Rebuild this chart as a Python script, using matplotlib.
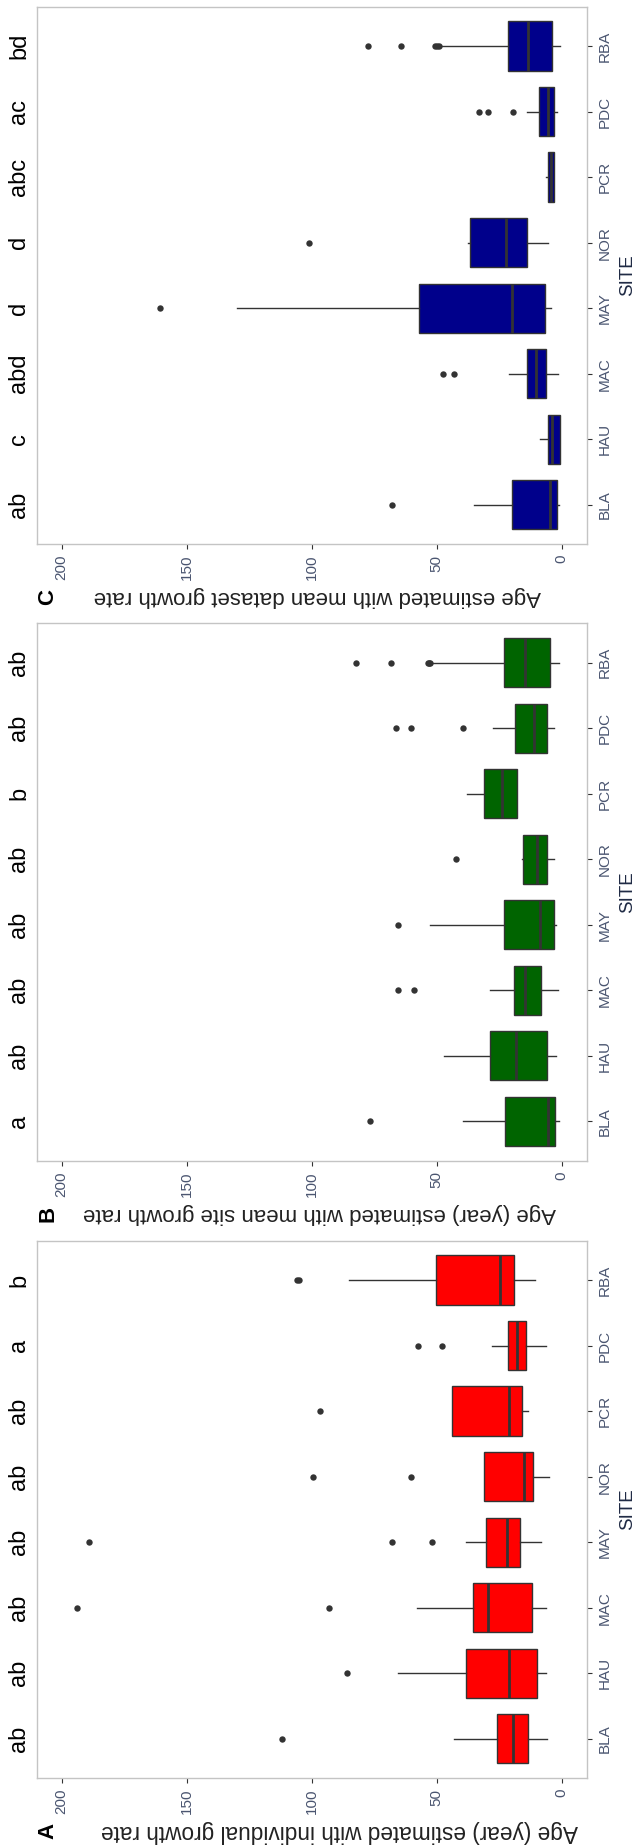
import matplotlib
matplotlib.use("Agg")
import matplotlib.pyplot as plt
from matplotlib.transforms import blended_transform_factory

plt.rcParams['font.family'] = ['Liberation Sans', 'DejaVu Sans']

# Sites, bottom to top
sites = ['BLA', 'HAU', 'MAC', 'MAY', 'NOR', 'PCR', 'PDC', 'RBA']

# -------------------------------
# Panel A: individual growth rate
# -------------------------------
a_low = [5.7, 6.1, 6.1, 8.3, 5.2, 13.4, 6.1, 10.5]
a_q1 = [13.4, 9.9, 12.0, 16.5, 11.5, 15.9, 14.4, 18.9]
a_med = [19.3, 21.0, 29.6, 21.8, 15.2, 21.2, 17.8, 24.8]
a_q3 = [25.9, 38.2, 35.6, 30.4, 30.9, 43.7, 21.5, 50.3]
a_high = [43.2, 65.4, 57.8, 38.2, 30.9, 43.7, 27.9, 85.0]
a_out = [[111.7], [85.9], [93.0, 193.9], [51.9, 68.0, 189.2],
         [60.2, 99.4], [96.8], [47.7, 57.6], [105.2, 106.0]]
a_letters = ['ab', 'ab', 'ab', 'ab', 'ab', 'ab', 'a', 'b']

# -------------------------------
# Panel B: mean site growth rate
# -------------------------------
b_low = [1.0, 2.1, 1.3, 2.1, 2.9, 18.0, 2.9, 1.0]
b_q1 = [2.6, 5.7, 8.4, 2.9, 5.7, 18.0, 5.7, 4.5]
b_med = [5.3, 18.3, 14.6, 8.6, 9.7, 23.9, 11.0, 14.6]
b_q3 = [22.8, 28.5, 19.1, 23.1, 15.5, 30.9, 18.6, 23.1]
b_high = [39.3, 47.1, 28.5, 52.6, 16.0, 37.7, 27.5, 51.5]
b_out = [[76.5], [], [59.2, 65.4], [65.4], [42.2], [],
         [39.6, 60.2, 66.2], [52.5, 53.0, 53.5, 68.4, 82.2]]
b_letters = ['a', 'ab', 'ab', 'ab', 'ab', 'b', 'ab', 'ab']

# -------------------------------
# Panel C: mean dataset growth rate
# -------------------------------
c_low = [1.0, 0.8, 1.6, 4.2, 5.6, 3.0, 1.7, 0.7]
c_q1 = [2.0, 0.8, 6.1, 6.6, 13.9, 3.0, 2.9, 3.9]
c_med = [4.5, 3.7, 10.1, 19.9, 22.3, 4.2, 5.3, 13.6]
c_q3 = [19.9, 5.4, 14.0, 57.1, 36.6, 5.3, 9.2, 21.6]
c_high = [34.9, 8.6, 21.1, 129.8, 37.4, 6.2, 13.8, 48.3]
c_out = [[67.7], [], [43.0, 47.5], [160.5], [101.0], [],
         [19.6, 29.3, 33.0], [49.2, 50.0, 50.6, 64.4, 77.6]]
c_letters = ['ab', 'c', 'abd', 'd', 'd', 'abc', 'ac', 'bd']

age_ticks = [0, 50, 100, 150, 200]

W, H = 635, 1845
fig = plt.figure(figsize=(W / 100, H / 100), dpi=100)

tick_col = '#4a5570'
line_col = '#333333'


def draw_panel(top_px, low, q1, med, q3, high, out, letters, color, label, tag):
    bottom_px = top_px + 537.3
    ax = fig.add_axes([36.7 / W, 1 - bottom_px / H, 550 / W, 537.3 / H])

    stats = []
    for i in range(len(sites)):
        stats.append({'whislo': low[i], 'q1': q1[i], 'med': med[i],
                      'q3': q3[i], 'whishi': high[i], 'fliers': out[i]})

    ax.bxp(stats, positions=range(1, len(sites) + 1), widths=0.75,
           orientation='horizontal', patch_artist=True, showcaps=False,
           boxprops=dict(facecolor=color, edgecolor=line_col, linewidth=1.0),
           medianprops=dict(color=line_col, linewidth=2.0),
           whiskerprops=dict(color=line_col, linewidth=1.0),
           flierprops=dict(marker='o', markerfacecolor=line_col,
                           markeredgecolor='none', markersize=4.6))

    ax.set_xlim(210, -10)
    ax.set_ylim(0.4, 8.6)

    ax.set_xticks(age_ticks)
    ax.set_xticklabels([str(t) for t in age_ticks], rotation=90,
                       fontsize=11, color=tick_col)
    ax.set_yticks(range(1, len(sites) + 1))
    ax.set_yticklabels(sites, rotation=90, va='center',
                       fontsize=11, color=tick_col)
    ax.yaxis.tick_right()
    ax.tick_params(axis='both', length=3.8, width=0.8, color=line_col, pad=4)

    for s in ax.spines.values():
        s.set_color('#c4c4c4')
        s.set_linewidth(1.0)

    # significance letters on the left side
    trans = blended_transform_factory(ax.transAxes, ax.transData)
    for i, let in enumerate(letters):
        ax.text(-0.032, i + 1, let, transform=trans, rotation=90,
                ha='center', va='center', fontsize=17, color='black')

    # SITE title on the right
    mid = (top_px + bottom_px) / 2
    fig.text(628 / W, 1 - mid / H, 'SITE', rotation=90, ha='center',
             va='center', fontsize=13.5, color='#1f2a44')

    # upside-down y title and panel tag below
    lab_y = bottom_px + 53
    fig.text(label[1] / W, 1 - lab_y / H, label[0], rotation=180,
             ha='center', va='center', fontsize=label[2], color='#222222')
    fig.text(48 / W, 1 - lab_y / H, tag, rotation=90, ha='center',
             va='center', fontsize=16, fontweight='bold', color='black')


draw_panel(6.7, c_low, c_q1, c_med, c_q3, c_high, c_out, c_letters,
           '#00008B', ('Age estimated with mean dataset growth rate', 317, 16), 'C')
draw_panel(623.3, b_low, b_q1, b_med, b_q3, b_high, b_out, b_letters,
           '#006400', ('Age (year) estimated with mean site growth rate', 320, 16), 'B')
draw_panel(1240.7, a_low, a_q1, a_med, a_q3, a_high, a_out, a_letters,
           '#FF0000', ('Age (year) estimated with individual growth rate', 339, 16.3), 'A')

fig.savefig('out.png', dpi=100)
